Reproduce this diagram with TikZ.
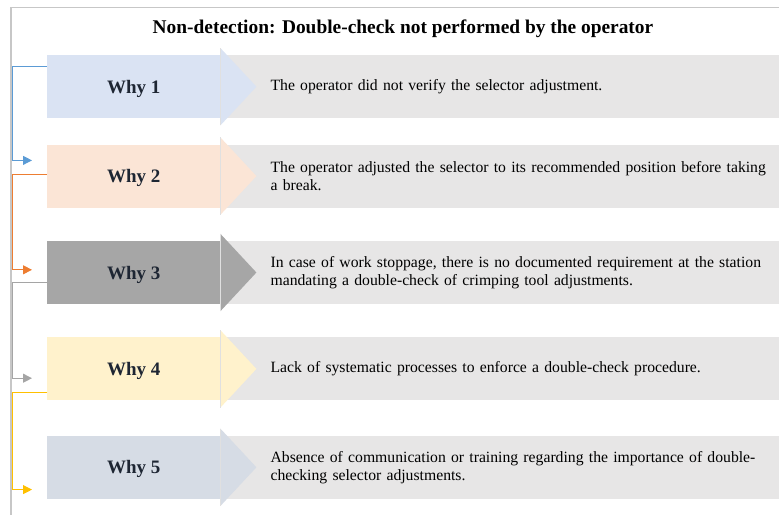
\documentclass[tikz,border=0pt]{standalone}
\usepackage{fontspec}
\setmainfont{Liberation Serif}
\usetikzlibrary{arrows.meta, positioning, calc}
\definecolor{whyblue}{HTML}{DAE3F3}
\definecolor{whyorange}{HTML}{FBE5D6}
\definecolor{whygray}{HTML}{A6A6A6}
\definecolor{whyyellow}{HTML}{FFF2CC}
\definecolor{whyslate}{HTML}{D6DCE5}
\definecolor{barfill}{HTML}{E7E6E6}
\definecolor{whytext}{HTML}{1E2633}
\definecolor{linkblue}{HTML}{5B9BD5}
\definecolor{linkorange}{HTML}{ED7D31}
\definecolor{linkgray}{HTML}{A5A5A5}
\definecolor{linkyellow}{HTML}{FFC000}
\tikzset{why/.style = {
  % Rectangle:
  rectangle, fill=#1,
  minimum width=173pt, minimum height=63pt,
  inner sep=0pt,
  % Text
  text depth=0pt,
  text=whytext, font=\bfseries\fontsize{19}{22}\selectfont
  }}
\tikzset{cause/.style = {
  % Rectangle:
  rectangle, fill=barfill,
  minimum width=559pt, minimum height=63pt,
  inner xsep=0pt, inner ysep=0pt,
  % Text
  text width=559pt,
  execute at begin node={\leftskip=50pt\rightskip=0pt plus 1fil},
  font=\fontsize{15.7}{18}\selectfont
  }}
\tikzset{head/.style = {
  fill=#1
  }}
\tikzset{edge/.style = {
  draw=black!12, line width=1.5pt
  }}
\tikzset{link/.style = {
  ->,
  >={Triangle[length=9pt, width=9pt]},
  line width=1pt,
  draw=#1
  }}
\tikzset{frame/.style = {
  draw=black!22, line width=#1
  }}

\begin{document}
\begin{tikzpicture}[x=1pt, y=-1pt]
\useasboundingbox (0,0) rectangle (779,515);

% FRAME
\draw [frame=1pt] (11,7) -- (779,7);
\draw [frame=2.5pt] (11,7) -- (11,515);

% TITLE
\node (title) at (403,29) [font=\bfseries\fontsize{19.4}{22}\selectfont, text=black] {Non-detection: Double-check not performed by the operator};

% NODES
\node (why1) [why=whyblue, anchor=north west] at (47,55) {Why 1};
\node (why2) [why=whyorange, below=26pt of why1] {Why 2};
\node (why3) [why=whygray, below=33pt of why2] {Why 3};
\node (why4) [why=whyyellow, below=33pt of why3] {Why 4};
\node (why5) [why=whyslate, below=35pt of why4] {Why 5};

\node (cause1) [cause, right=0pt of why1] {The operator did not verify the selector adjustment.};
\node (cause2) [cause, right=0pt of why2] {The operator adjusted the selector to its recommended position before taking\\a break.};
\node (cause3) [cause, right=0pt of why3] {In case of work stoppage, there is no documented requirement at the station\\mandating a double-check of crimping tool adjustments.};
\node (cause4) [cause, right=0pt of why4] {Lack of systematic processes to enforce a double-check procedure.};
\node (cause5) [cause, right=0pt of why5] {Absence of communication or training regarding the importance of double-\\checking selector adjustments.};

% arrow heads
\path [head=whyblue] ([yshift=7pt]why1.north east) -- ([xshift=36pt]why1.east) -- ([yshift=-7pt]why1.south east) -- cycle;
\path [head=whyorange] ([yshift=7pt]why2.north east) -- ([xshift=36pt]why2.east) -- ([yshift=-7pt]why2.south east) -- cycle;
\path [head=whygray] ([yshift=7pt]why3.north east) -- ([xshift=36pt]why3.east) -- ([yshift=-7pt]why3.south east) -- cycle;
\path [head=whyyellow] ([yshift=7pt]why4.north east) -- ([xshift=36pt]why4.east) -- ([yshift=-7pt]why4.south east) -- cycle;
\path [head=whyslate] ([yshift=7pt]why5.north east) -- ([xshift=36pt]why5.east) -- ([yshift=-7pt]why5.south east) -- cycle;

\draw [edge] ([yshift=7pt]why1.north east) -- ([yshift=-7pt]why1.south east);
\draw [edge] ([yshift=7pt]why2.north east) -- ([yshift=-7pt]why2.south east);
\draw [edge] ([yshift=7pt]why3.north east) -- ([yshift=-7pt]why3.south east);
\draw [edge] ([yshift=7pt]why4.north east) -- ([yshift=-7pt]why4.south east);
\draw [edge] ([yshift=7pt]why5.north east) -- ([yshift=-7pt]why5.south east);

% arrows
\draw [link=linkblue] ([yshift=-11pt]why1.north west) -- ++(-34.5,0) |- ([xshift=-15pt, yshift=-16pt]why2.north west);
\draw [link=linkorange] ([yshift=-30pt]why2.north west) -- ++(-34.5,0) |- ([xshift=-15pt, yshift=-29pt]why3.north west);
\draw [link=linkgray] ([yshift=-42pt]why3.north west) -- ++(-34.5,0) |- ([xshift=-15pt, yshift=-41pt]why4.north west);
\draw [link=linkyellow] ([yshift=-55pt]why4.north west) -- ++(-34.5,0) |- ([xshift=-15pt, yshift=-54pt]why5.north west);
\end{tikzpicture}
\end{document}
